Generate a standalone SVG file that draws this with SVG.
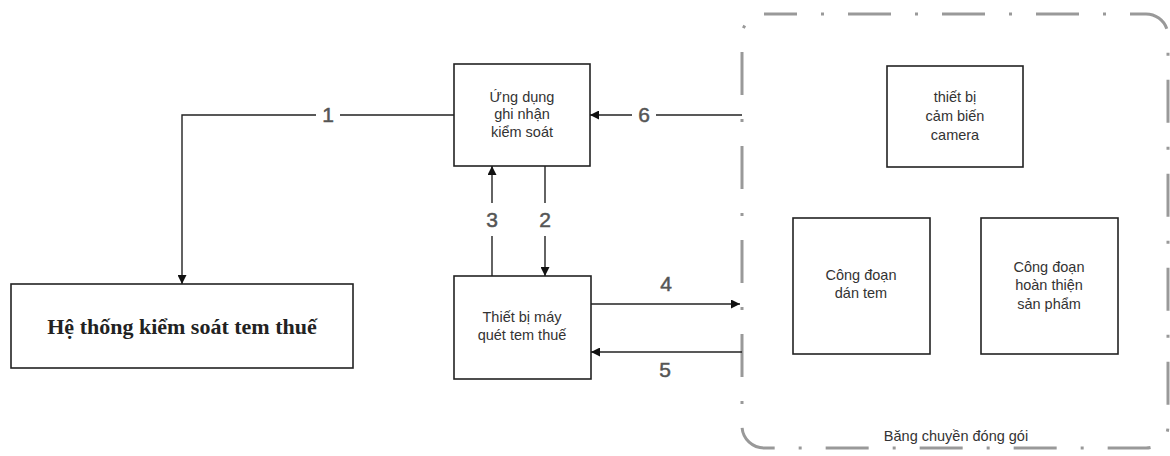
<svg xmlns="http://www.w3.org/2000/svg" width="1170" height="456" viewBox="0 0 1170 456">
<style>
.box{fill:#fff;stroke:#222;stroke-width:1.6}
.t{font-family:"Liberation Sans",Arial,sans-serif;font-size:14.5px;fill:#333;text-anchor:middle}
.num{font-family:"Liberation Sans",Arial,sans-serif;font-size:21px;fill:#555;stroke:#555;stroke-width:0.5;text-anchor:middle;dominant-baseline:central}
.c{fill:none;stroke:#222;stroke-width:1.4}
</style>
<defs>
<marker id="ah" viewBox="0 0 10 10" refX="10" refY="5" markerWidth="11" markerHeight="9" markerUnits="userSpaceOnUse" orient="auto">
<path d="M0,0 L10,5 L0,10 z" fill="#111"/>
</marker>
</defs>
<rect width="1170" height="456" fill="#fff"/>
<g id="belt">
<rect x="742" y="14" width="426" height="434" rx="22" ry="22" fill="none" stroke="#999" stroke-width="3" stroke-dasharray="43 24 3 24" stroke-dashoffset="10"/>
<text class="t" x="956" y="441">Băng chuyền đóng gói</text>
</g>
<g id="system">
<rect class="box" x="11" y="284" width="342" height="84"/>
<text x="182" y="334" text-anchor="middle" font-family="'Liberation Serif','Times New Roman',serif" font-size="22" font-weight="bold" fill="#222">Hệ thống kiểm soát tem thuế</text>
</g>
<g id="app">
<rect class="box" x="454" y="64" width="136" height="102"/>
<text class="t" x="522" y="102">Ứng dụng</text>
<text class="t" x="522" y="119">ghi nhận</text>
<text class="t" x="522" y="137">kiểm soát</text>
</g>
<g id="scanner">
<rect class="box" x="454" y="276" width="137" height="103"/>
<text class="t" x="522" y="322">Thiết bị máy</text>
<text class="t" x="522" y="340">quét tem thuế</text>
</g>
<g id="camera">
<rect class="box" x="887" y="66" width="136" height="101"/>
<text class="t" x="955" y="102">thiết bị</text>
<text class="t" x="955" y="121">cảm biến</text>
<text class="t" x="955" y="140">camera</text>
</g>
<g id="stamp">
<rect class="box" x="793" y="218" width="137" height="136"/>
<text class="t" x="861" y="280">Công đoạn</text>
<text class="t" x="861" y="298">dán tem</text>
</g>
<g id="finish">
<rect class="box" x="981" y="218" width="137" height="136"/>
<text class="t" x="1049" y="272">Công đoạn</text>
<text class="t" x="1049" y="290">hoàn thiện</text>
<text class="t" x="1049" y="309">sản phẩm</text>
</g>
<g id="connectors">
<path class="c" d="M454,115 H182 V284" marker-end="url(#ah)"/>
<rect x="316" y="104" width="24" height="22" fill="#fff"/>
<text class="num" x="328" y="114">1</text>
<path class="c" d="M742,115 H590" marker-end="url(#ah)"/>
<rect x="632" y="104" width="24" height="22" fill="#fff"/>
<text class="num" x="644" y="114">6</text>
<path class="c" d="M545,166 V276" marker-end="url(#ah)"/>
<rect x="534" y="203" width="22" height="33" fill="#fff"/>
<text class="num" x="545" y="219">2</text>
<path class="c" d="M492,276 V166" marker-end="url(#ah)"/>
<rect x="481" y="203" width="22" height="33" fill="#fff"/>
<text class="num" x="492" y="219">3</text>
<path class="c" d="M591,304 H740" marker-end="url(#ah)"/>
<text class="num" x="666" y="283">4</text>
<path class="c" d="M742,352 H591" marker-end="url(#ah)"/>
<text class="num" x="665" y="369">5</text>
</g>
</svg>
